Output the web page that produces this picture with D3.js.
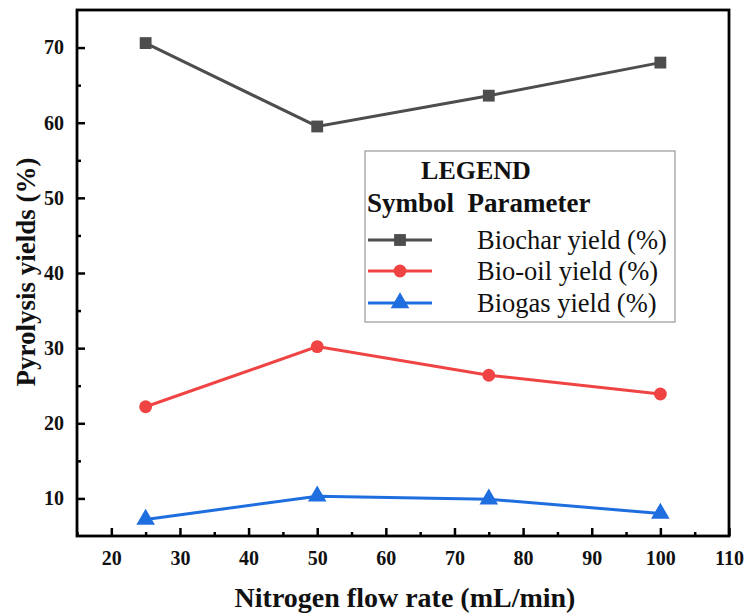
<!DOCTYPE html>
<html>
<head>
<meta charset="utf-8">
<script src="https://cdn.jsdelivr.net/npm/d3@7"></script>
<style>
  html, body { margin: 0; padding: 0; background: #fff; }
  svg { display: block; }
  svg text { font-family: "Liberation Serif", "Times New Roman", serif; }
</style>
</head>
<body>
<svg id="chart" width="749" height="616"></svg>
<script>
// Nitrogen flow rate (mL/min) and the three product yields (%)
const flowRates = [25, 50, 75, 100];
const biocharYield = [70.6, 59.5, 63.6, 68.0];
const bioOilYield = [22.2, 30.2, 26.4, 23.9];
const biogasYield = [7.2, 10.3, 9.9, 8.0];

const xTicks = [20, 30, 40, 50, 60, 70, 80, 90, 100, 110];
const yTicks = [10, 20, 30, 40, 50, 60, 70];
const seriesNames = ["Biochar yield (%)", "Bio-oil yield (%)", "Biogas yield (%)"];
const seriesColors = ["#4d4d4d", "#f04444", "#1f6ee0"];
const seriesSymbols = [d3.symbolSquare, d3.symbolCircle, d3.symbolTriangle];

const svg = d3.select("#chart");
const plotLeft = 77, plotRight = 729, plotTop = 10, plotBottom = 536;

const x = d3.scaleLinear().domain([15, 110]).range([plotLeft, plotRight]);
const y = d3.scaleLinear().domain([5, 75]).range([plotBottom, plotTop]);

// Axes with inward ticks (minor ticks at the half steps)
const xMinor = d3.range(15, 110, 10);
const yMinor = d3.range(15, 75, 10);

svg.append("g").attr("transform", `translate(0,${plotBottom})`)
  .call(d3.axisBottom(x).tickValues(xMinor).tickSize(-4).tickFormat(""));
svg.append("g").attr("transform", `translate(0,${plotBottom})`)
  .call(d3.axisBottom(x).tickValues(xTicks).tickSize(-8).tickPadding(15).tickFormat(d3.format("d")));

svg.append("g").attr("transform", `translate(${plotLeft},0)`)
  .call(d3.axisLeft(y).tickValues(yMinor).tickSize(-4).tickFormat(""));
svg.append("g").attr("transform", `translate(${plotLeft},0)`)
  .call(d3.axisLeft(y).tickValues(yTicks).tickSize(-8).tickPadding(13).tickFormat(d3.format("d")));

svg.selectAll(".domain").remove();
svg.selectAll("g").attr("font-family", null);
svg.selectAll(".tick line").attr("stroke", "#000").attr("stroke-width", 2.5);
svg.selectAll(".tick text")
  .attr("font-size", 20).attr("font-weight", "bold").attr("fill", "#111");

// Frame
svg.append("rect")
  .attr("x", plotLeft).attr("y", plotTop)
  .attr("width", plotRight - plotLeft).attr("height", plotBottom - plotTop)
  .attr("fill", "none").attr("stroke", "#000").attr("stroke-width", 2.8);

// Series
const allSeries = [biocharYield, bioOilYield, biogasYield];
const line = d3.line().x((d, i) => x(flowRates[i])).y(d => y(d));
const symbolSizes = [140, 130, 150];

allSeries.forEach((vals, s) => {
  svg.append("path")
    .attr("d", line(vals))
    .attr("fill", "none")
    .attr("stroke", seriesColors[s])
    .attr("stroke-width", 3);
  svg.append("g").selectAll("path")
    .data(vals)
    .join("path")
    .attr("transform", (d, i) => `translate(${x(flowRates[i])},${y(d)})`)
    .attr("d", d3.symbol().type(seriesSymbols[s]).size(symbolSizes[s]))
    .attr("fill", seriesColors[s]);
});

// Axis titles
svg.append("text")
  .attr("x", 405).attr("y", 607)
  .attr("text-anchor", "middle")
  .attr("font-size", 28).attr("font-weight", "bold").attr("fill", "#111")
  .text("Nitrogen flow rate (mL/min)");

svg.append("text")
  .attr("transform", "translate(35,272) rotate(-90)")
  .attr("text-anchor", "middle")
  .attr("font-size", 27).attr("font-weight", "bold").attr("fill", "#111")
  .text("Pyrolysis yields (%)");

// Legend
const lg = svg.append("g");
lg.append("rect")
  .attr("x", 365).attr("y", 151).attr("width", 310).attr("height", 171)
  .attr("fill", "#fff").attr("stroke", "#999").attr("stroke-width", 1.2);
lg.append("text")
  .attr("x", 476).attr("y", 179).attr("text-anchor", "middle")
  .attr("font-size", 26).attr("font-weight", "bold").attr("fill", "#111")
  .text("LEGEND");
lg.append("text")
  .attr("x", 367).attr("y", 212)
  .attr("font-size", 27).attr("font-weight", "bold").attr("fill", "#111")
  .attr("xml:space", "preserve")
  .text("Symbol  Parameter");

const rowY = [240, 271, 303];
seriesNames.forEach((name, s) => {
  lg.append("line")
    .attr("x1", 368).attr("x2", 432)
    .attr("y1", rowY[s]).attr("y2", rowY[s])
    .attr("stroke", seriesColors[s]).attr("stroke-width", 3);
  lg.append("path")
    .attr("transform", `translate(400,${rowY[s]})`)
    .attr("d", d3.symbol().type(seriesSymbols[s]).size(symbolSizes[s]))
    .attr("fill", seriesColors[s]);
  lg.append("text")
    .attr("x", 477).attr("y", rowY[s] + 9)
    .attr("font-size", 26.5).attr("fill", "#111")
    .text(name);
});
</script>
</body>
</html>
